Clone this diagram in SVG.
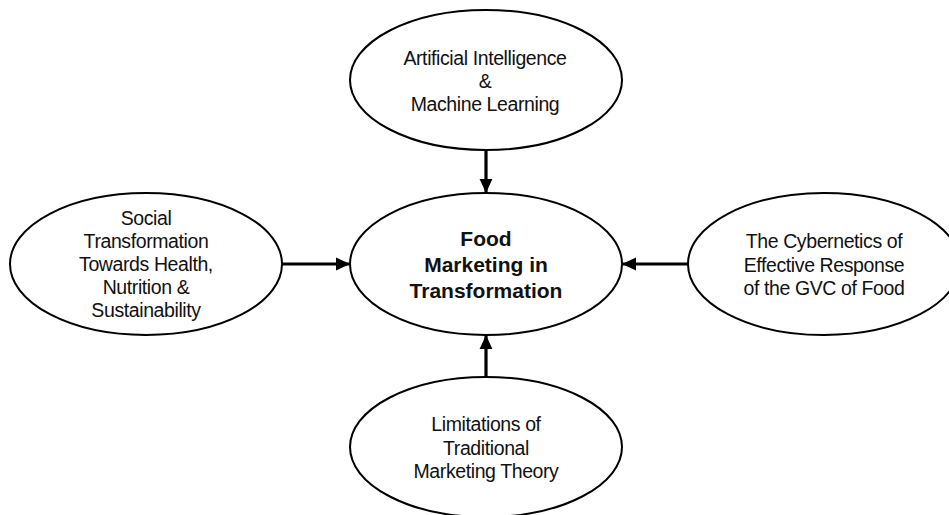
<svg xmlns="http://www.w3.org/2000/svg" width="949" height="515" viewBox="0 0 949 515">
<style>
.node ellipse{fill:#fff;stroke:#000;stroke-width:2}
.node text{font-family:"Liberation Sans",Arial,sans-serif;font-size:19.5px;letter-spacing:-0.4px;fill:#111;text-anchor:middle}
#center text{font-weight:bold;font-size:21px;letter-spacing:0}
.conn line{stroke:#000;stroke-width:3.2;marker-end:url(#ah)}
</style>
<defs>
<marker id="ah" markerUnits="userSpaceOnUse" markerWidth="14" markerHeight="14" viewBox="0 0 12 12" refX="12" refY="6" orient="auto">
<path d="M0,0.5 L12,6 L0,11.5 Z" fill="#000"/>
</marker>
</defs>
<rect width="949" height="515" fill="#fff"/>
<g class="conn" id="connectors">
<line x1="486" y1="150" x2="486" y2="193"/>
<line x1="282" y1="264" x2="350" y2="264"/>
<line x1="688" y1="264" x2="622" y2="264"/>
<line x1="486" y1="377" x2="486" y2="335"/>
</g>
<g class="node" id="ai">
<ellipse cx="486" cy="80" rx="136" ry="70"/>
<text x="485" y="65">Artificial Intelligence</text>
<text x="485" y="88">&amp;</text>
<text x="485" y="111">Machine Learning</text>
</g>
<g class="node" id="center">
<ellipse cx="486" cy="264" rx="136" ry="71"/>
<text x="486" y="246">Food</text>
<text x="486" y="272">Marketing in</text>
<text x="486" y="298">Transformation</text>
</g>
<g class="node" id="social">
<ellipse cx="146" cy="264" rx="136" ry="71"/>
<text x="146" y="225">Social</text>
<text x="146" y="248">Transformation</text>
<text x="146" y="271">Towards Health,</text>
<text x="146" y="294">Nutrition &amp;</text>
<text x="146" y="317">Sustainability</text>
</g>
<g class="node" id="cyber">
<ellipse cx="824" cy="264" rx="136" ry="71"/>
<text x="824" y="248">The Cybernetics of</text>
<text x="824" y="272">Effective Response</text>
<text x="824" y="295">of the GVC of Food</text>
</g>
<g class="node" id="limits">
<ellipse cx="486" cy="447" rx="136" ry="70"/>
<text x="486" y="431">Limitations of</text>
<text x="486" y="455">Traditional</text>
<text x="486" y="478">Marketing Theory</text>
</g>
</svg>
